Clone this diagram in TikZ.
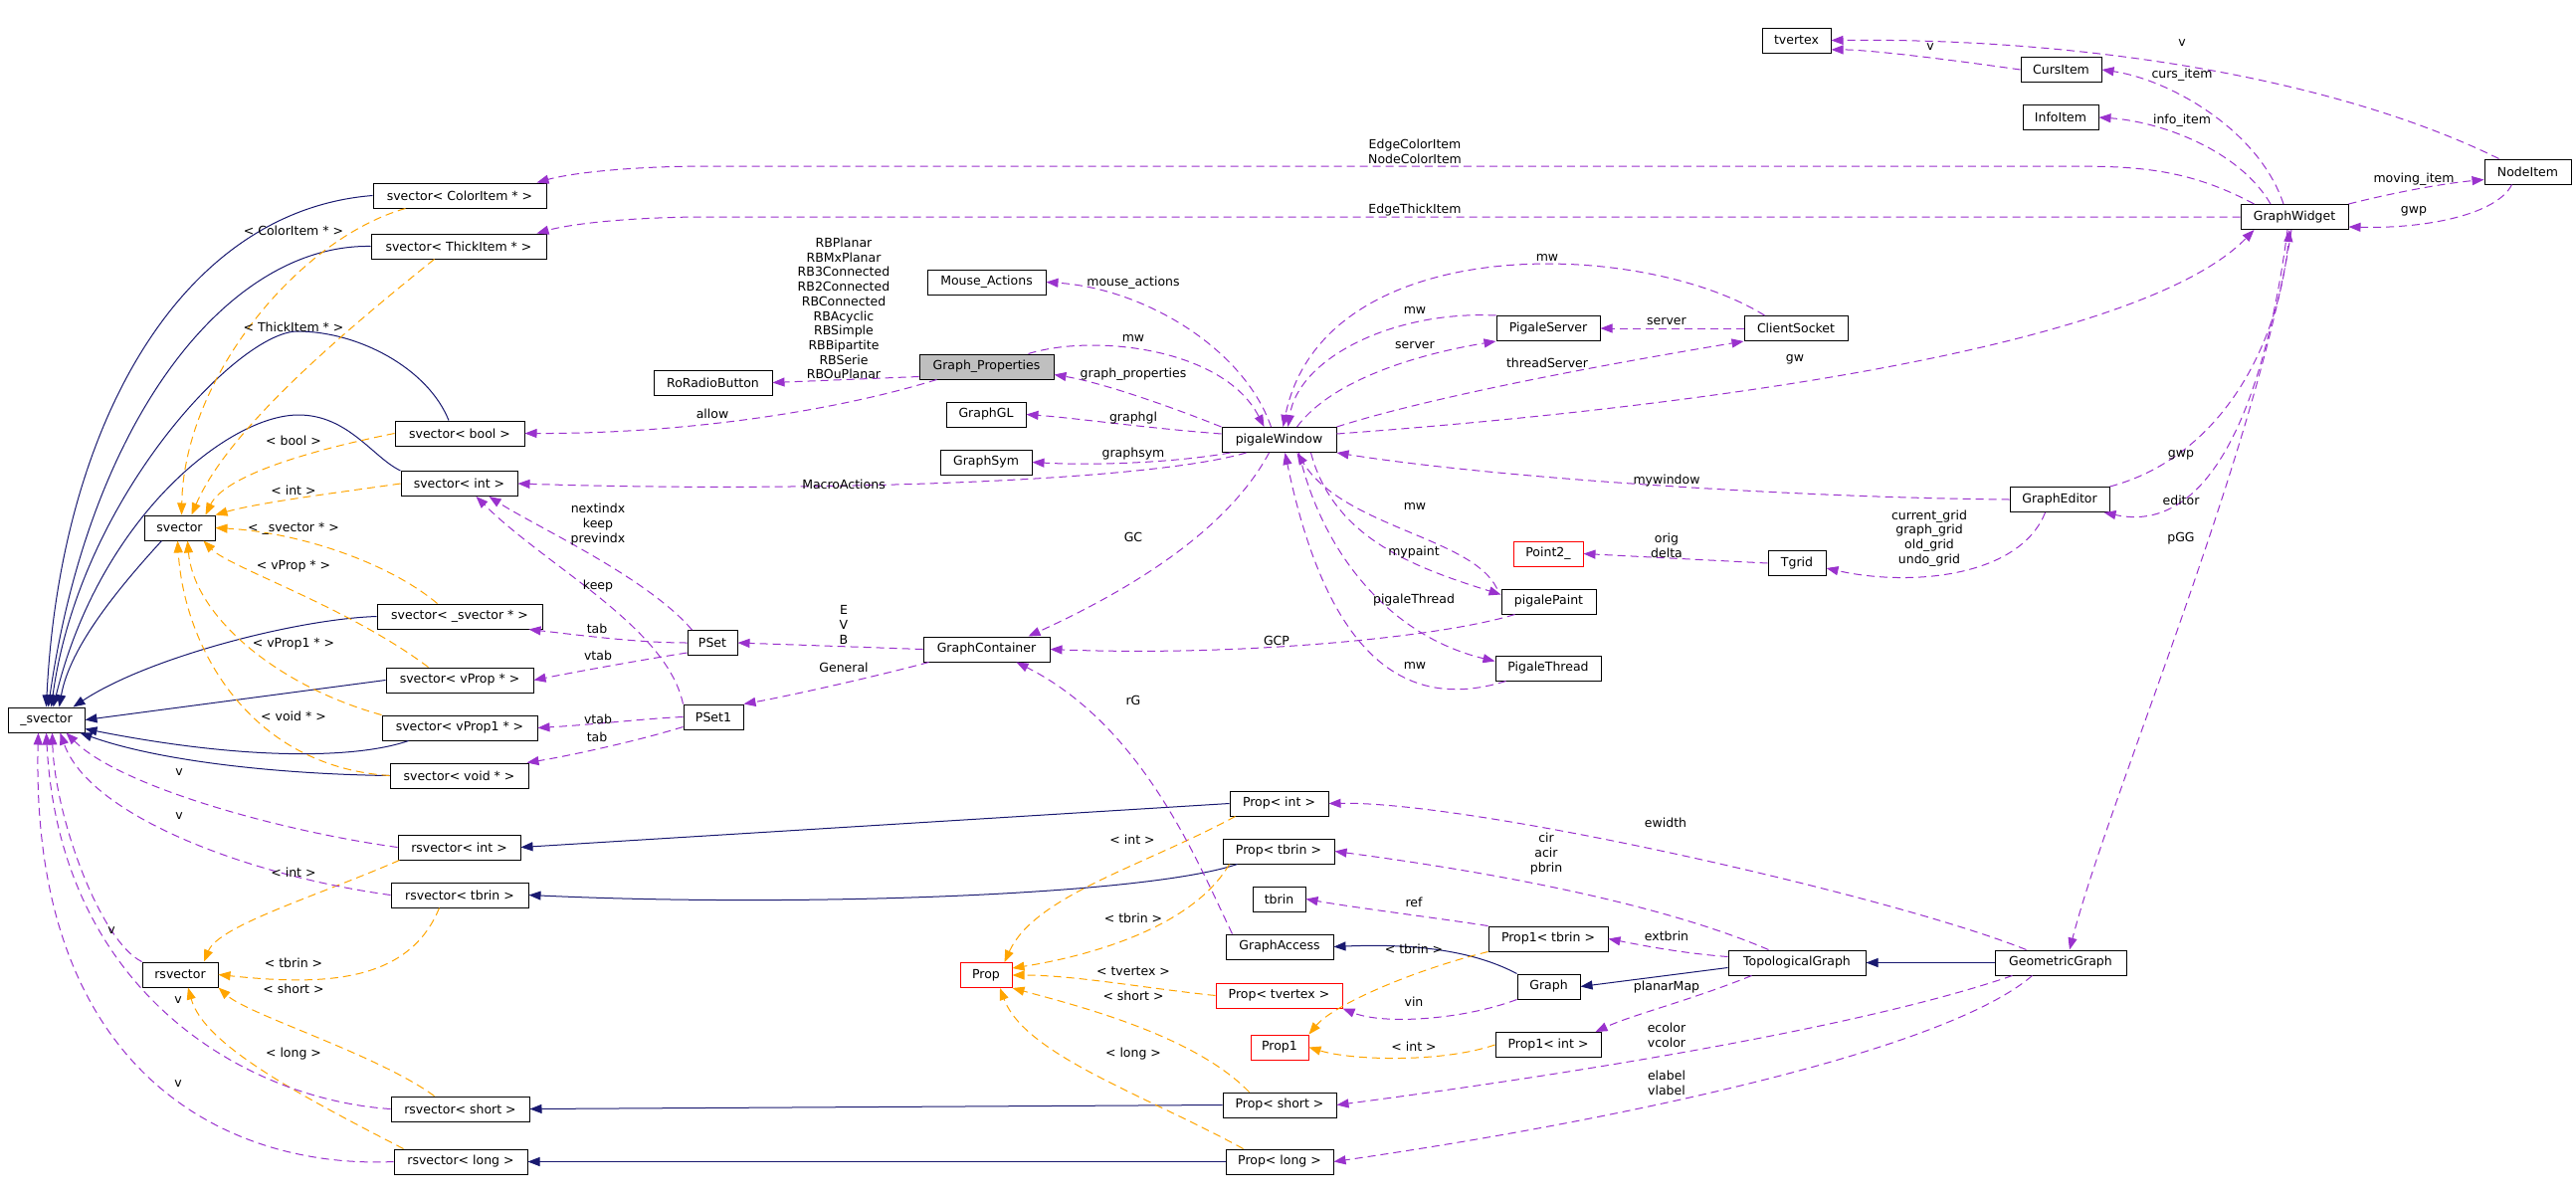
\documentclass[tikz,border=0pt]{standalone}
\usepackage{fontspec}
\usepackage{tikz}
\usetikzlibrary{arrows.meta}
\newfontfamily\dgfont{DejaVu Sans}
\newcommand{\dgsize}{\dgfont\fontsize{12.5pt}{14.7pt}\selectfont}
\definecolor{inhcol}{HTML}{191970}
\definecolor{usecol}{HTML}{9A32CD}
\definecolor{tplcol}{HTML}{FFA500}
\definecolor{undoc}{HTML}{FF0000}
\definecolor{selfill}{HTML}{BFBFBF}
\tikzset{
  cls/.style    = {rectangle, draw=black, line width=1pt, fill=white,
                   minimum height=25pt, inner sep=0pt, font=\dgsize},
  sel/.style    = {cls, fill=selfill},
  ext/.style    = {cls, draw=undoc},
  lbl/.style    = {inner sep=0pt, align=center, font=\dgsize},
  inh/.style    = {-{Triangle[length=12pt,width=9pt]}, line width=1pt, draw=inhcol},
  tpl/.style    = {-{Triangle[length=12pt,width=9pt]}, line width=1pt, draw=tplcol,
                   dash pattern=on 8pt off 5pt},
  member/.style = {-{Triangle[length=12pt,width=9pt]}, line width=1pt, draw=usecol,
                   dash pattern=on 8pt off 5pt},
}

\begin{document}
\begin{tikzpicture}[x=1pt, y=-1pt]
  \fill[white] (0,0) rectangle (2589,1205);
  \useasboundingbox (0,0) rectangle (2589,1205);

  % LEFT: vector classes
  \node[cls, minimum width=174pt] (svCI) at (462,196.5) {svector< ColorItem * >};
  \node[cls, minimum width=176pt] (svTI) at (461,247.5) {svector< ThickItem * >};
  \node[cls, minimum width=130pt] (svB) at (462,435.5) {svector< bool >};
  \node[cls, minimum width=117pt] (svI) at (461.5,486) {svector< int >};
  \node[cls, minimum width=71pt] (sv) at (180.5,530.5) {svector};
  \node[cls, minimum width=166pt] (svS) at (462,619.5) {svector< \_svector * >};
  \node[cls, minimum width=148pt] (svVP) at (462,683.5) {svector< vProp * >};
  \node[cls, minimum width=156pt] (svVP1) at (462,731.5) {svector< vProp1 * >};
  \node[cls, minimum width=139pt] (svV) at (461.5,779.5) {svector< void * >};
  \node[cls, minimum width=77pt] (usv) at (46.5,723.5) {\_svector};
  \node[cls, minimum width=123pt] (rsI) at (461.5,851.5) {rsvector< int >};
  \node[cls, minimum width=138pt] (rsT) at (462,899.5) {rsvector< tbrin >};
  \node[cls, minimum width=76pt] (rsv) at (181,979.5) {rsvector};
  \node[cls, minimum width=139pt] (rsS) at (462.5,1114.5) {rsvector< short >};
  \node[cls, minimum width=134pt] (rsL) at (463,1167.5) {rsvector< long >};

  % MIDDLE: window and containers
  \node[cls, minimum width=119pt] (RoRadioButton) at (716.5,384.5) {RoRadioButton};
  \node[cls, minimum width=50pt] (PSet) at (716,646) {PSet};
  \node[cls, minimum width=60pt] (PSet1) at (717,720.5) {PSet1};
  \node[cls, minimum width=119pt] (MA) at (991.5,283.5) {Mouse\_Actions};
  \node[sel, minimum width=135pt] (GraphProps) at (991.5,368.5) {Graph\_Properties};
  \node[cls, minimum width=80pt] (GraphGL) at (991,416.5) {GraphGL};
  \node[cls, minimum width=92pt] (GraphSym) at (991,464.5) {GraphSym};
  \node[cls, minimum width=127pt] (GraphContainer) at (991.5,652.5) {GraphContainer};
  \node[ext, minimum width=52pt] (Prop) at (991,980) {Prop};
  \node[cls, minimum width=115pt] (pW) at (1285.5,442) {pigaleWindow};
  \node[cls, minimum width=99pt] (PropI) at (1285.5,807.5) {Prop< int >};
  \node[cls, minimum width=112pt] (PropT) at (1285,855.5) {Prop< tbrin >};
  \node[cls, minimum width=53pt] (tbrin) at (1285.5,903.5) {tbrin};
  \node[cls, minimum width=108pt] (GraphAccess) at (1286,951.5) {GraphAccess};
  \node[ext, minimum width=127pt] (PropTV) at (1285.5,1000.5) {Prop< tvertex >};
  \node[ext, minimum width=58pt] (Prop1) at (1286,1052.5) {Prop1};
  \node[cls, minimum width=114pt] (PropS) at (1286,1110.5) {Prop< short >};
  \node[cls, minimum width=108pt] (PropL) at (1286,1167.5) {Prop< long >};

  % RIGHT: server, editor, graph classes
  \node[cls, minimum width=104pt] (PigaleServer) at (1556,330) {PigaleServer};
  \node[ext, minimum width=70pt] (Point2) at (1556,556.5) {Point2\_};
  \node[cls, minimum width=95pt] (pigalePaint) at (1556.5,604.5) {pigalePaint};
  \node[cls, minimum width=106pt] (PigaleThread) at (1556,671.5) {PigaleThread};
  \node[cls, minimum width=120pt] (Prop1T) at (1556,943.5) {Prop1< tbrin >};
  \node[cls, minimum width=63pt] (Graph) at (1556.5,991.5) {Graph};
  \node[cls, minimum width=106pt] (Prop1I) at (1556,1050) {Prop1< int >};
  \node[cls, minimum width=104pt] (ClientSocket) at (1805,330) {ClientSocket};
  \node[cls, minimum width=58pt] (Tgrid) at (1806,566) {Tgrid};
  \node[cls, minimum width=138pt] (TG) at (1806,967.5) {TopologicalGraph};
  \node[cls, minimum width=69pt] (tvertex) at (1805.5,40.5) {tvertex};
  \node[cls, minimum width=81pt] (CursItem) at (2071.5,70) {CursItem};
  \node[cls, minimum width=76pt] (InfoItem) at (2071,118) {InfoItem};
  \node[cls, minimum width=100pt] (GraphEditor) at (2070,502) {GraphEditor};
  \node[cls, minimum width=132pt] (GG) at (2071,967.5) {GeometricGraph};
  \node[cls, minimum width=108pt] (GW) at (2306,218) {GraphWidget};
  \node[cls, minimum width=87pt] (NodeItem) at (2540.5,172.5) {NodeItem};

  % inheritance
  \draw[inh] (svCI.west) .. controls (180,212) and (60,430) .. (usv.north);
  \draw[inh] (svTI.west) .. controls (230,245) and (90,420) .. ([xshift=2pt]usv.north);
  \draw[inh] ([xshift=-11pt]svB.north) .. controls (430,370) and (360,333) .. (299,333)
             .. controls (240,333) and (80,500) .. ([xshift=5pt]usv.north);
  \draw[inh] (svI.north west) .. controls (375,460) and (350,417) .. (300,417)
             .. controls (230,417) and (100,520) .. ([xshift=7pt]usv.north);
  \draw[inh] ([xshift=18pt]sv.south west) .. controls (120,590) and (70,650) .. ([xshift=13pt]usv.north);
  \draw[inh] (svS.west) .. controls (300,622) and (150,660) .. ([xshift=27pt]usv.north);
  \draw[inh] (svVP.west) -- (usv.east);
  \draw[inh] ([xshift=27pt]svVP1.south west) .. controls (360,762) and (250,765) .. ([yshift=4pt]usv.south east);
  \draw[inh] (svV.west) .. controls (280,778) and (160,765) .. ([xshift=-5pt]usv.south east);
  \draw[inh] (PropI.west) -- (rsI.east);
  \draw[inh] ([xshift=15pt]PropT.south west) .. controls (1150,900) and (800,912) .. (rsT.east);
  \draw[inh] (PropS.west) -- (rsS.east);
  \draw[inh] (PropL.west) -- (rsL.east);
  \draw[inh] (Graph.north west) .. controls (1480,955) and (1420,948) .. (GraphAccess.east);
  \draw[inh] ([yshift=-5pt]TG.west) -- (Graph.east);
  \draw[inh] (GG.west) -- (TG.east);

  % template instances
  \draw[tpl] ([xshift=33pt]svCI.south west) .. controls (300,240) and (185,380) .. ([xshift=2pt]sv.north);
  \draw[tpl] ([xshift=64pt]svTI.south west) .. controls (350,330) and (230,430) .. ([xshift=12pt]sv.north);
  \draw[tpl] (svB.west) .. controls (300,455) and (225,480) .. ([xshift=-10pt]sv.north east);
  \draw[tpl] (svI.west) .. controls (340,495) and (260,505) .. (sv.north east);
  \draw[tpl] ([xshift=61pt]svS.north west) .. controls (390,565) and (300,535) .. (sv.east);
  \draw[tpl] ([xshift=43pt]svVP.north west) .. controls (350,610) and (230,570) .. ([xshift=-12pt]sv.south east);
  \draw[tpl] (svVP1.north west) .. controls (280,690) and (195,620) .. ([xshift=8pt]sv.south);
  \draw[tpl] (svV.west) .. controls (250,770) and (185,650) .. ([xshift=-2pt]sv.south);
  \draw[tpl] ([xshift=2pt]rsI.south west) .. controls (320,900) and (220,930) .. ([xshift=24pt]rsv.north);
  \draw[tpl] ([xshift=49pt]rsT.south west) .. controls (410,990) and (320,990) .. (rsv.east);
  \draw[tpl] ([xshift=44pt]rsS.north west) .. controls (380,1060) and (250,1020) .. (rsv.south east);
  \draw[tpl] ([xshift=10pt]rsL.north west) .. controls (300,1100) and (205,1050) .. ([xshift=8pt]rsv.south);
  \draw[tpl] ([xshift=6pt]PropI.south west) .. controls (1150,870) and (1040,900) .. ([xshift=-8pt]Prop.north east);
  \draw[tpl] ([xshift=7pt]PropT.south west) .. controls (1200,930) and (1100,960) .. ([yshift=7pt]Prop.east);
  \draw[tpl] (PropTV.west) .. controls (1150,993) and (1080,980) .. (Prop.east);
  \draw[tpl] ([xshift=27pt]PropS.north west) .. controls (1200,1040) and (1080,1010) .. (Prop.south east);
  \draw[tpl] ([xshift=18pt]PropL.north west) .. controls (1150,1100) and (1030,1060) .. ([xshift=14pt]Prop.south);
  \draw[tpl] (Prop1T.south west) .. controls (1420,975) and (1340,1010) .. (Prop1.north east);
  \draw[tpl] (Prop1I.west) .. controls (1450,1068) and (1360,1066) .. (Prop1.east);

  % members: vectors
  \draw[member] (rsI.west) .. controls (280,835) and (120,790) .. ([xshift=20pt]usv.south);
  \draw[member] (rsT.west) .. controls (250,880) and (90,820) .. ([xshift=14pt]usv.south);
  \draw[member] (rsv.north west) .. controls (100,945) and (55,820) .. ([xshift=6pt]usv.south);
  \draw[member] (rsS.west) .. controls (250,1105) and (60,1000) .. (usv.south);
  \draw[member] (rsL.west) .. controls (230,1175) and (30,1080) .. ([xshift=-8pt]usv.south);
  \draw[member] ([xshift=5pt]PSet.north west) .. controls (650,580) and (540,530) .. ([xshift=30pt]svI.south);
  \draw[member] (PSet1.north west) .. controls (670,630) and (550,570) .. ([xshift=17pt]svI.south);
  \draw[member] (PSet.west) .. controls (640,646) and (580,638) .. ([xshift=-14pt]svS.south east);
  \draw[member] ([yshift=-10pt]PSet.west) .. controls (640,664) and (580,675) .. (svVP.east);
  \draw[member] (PSet1.west) .. controls (650,722) and (600,728) .. (svVP1.east);
  \draw[member] ([yshift=-10pt]PSet1.west) .. controls (640,745) and (570,760) .. ([xshift=-2pt]svV.north east);
  \draw[member] (GraphContainer.west) -- (PSet.east);
  \draw[member] ([xshift=6pt]GraphContainer.south west) .. controls (880,680) and (790,700) .. (PSet1.north east);

  % members: window
  \draw[member] ([yshift=-10pt]GraphProps.west) -- (RoRadioButton.east);
  \draw[member] ([xshift=18pt]GraphProps.south west) .. controls (850,410) and (700,436) .. (svB.east);
  \draw[member] ([xshift=25pt]pW.south west) .. controls (1150,485) and (800,495) .. (svI.east);
  \draw[member] ([xshift=50pt]pW.north west) .. controls (1250,350) and (1150,290) .. (MA.east);
  \draw[member] ([xshift=42pt]GraphProps.north) .. controls (1100,335) and (1230,350) .. ([xshift=43pt]pW.north west);
  \draw[member] (pW.north west) .. controls (1180,410) and (1110,385) .. ([yshift=-8pt]GraphProps.east);
  \draw[member] ([yshift=6pt]pW.west) .. controls (1150,430) and (1080,420) .. (GraphGL.east);
  \draw[member] ([xshift=9pt]pW.south west) .. controls (1180,465) and (1100,468) .. (GraphSym.east);
  \draw[member] ([xshift=48pt]pW.south west) .. controls (1230,540) and (1120,600) .. ([xshift=42pt]GraphContainer.north);
  \draw[member] ([xshift=14pt]pigalePaint.south west) .. controls (1450,640) and (1250,660) .. (GraphContainer.east);
  \draw[member] ([xshift=7pt]GraphAccess.north west) .. controls (1205,870) and (1150,730) .. ([xshift=30pt]GraphContainer.south);
  \draw[member] (PigaleServer.north west) .. controls (1400,312) and (1305,360) .. ([xshift=67pt]pW.north west);
  \draw[member] ([xshift=21pt]ClientSocket.north west) .. controls (1650,240) and (1330,230) .. ([xshift=62pt]pW.north west);
  \draw[member] ([xshift=76pt]pW.north west) .. controls (1340,380) and (1430,355) .. (PigaleServer.south west);
  \draw[member] (ClientSocket.west) -- (PigaleServer.east);
  \draw[member] (pW.north east) .. controls (1450,395) and (1650,360) .. (ClientSocket.south west);
  \draw[member] ([yshift=6pt]pW.east) .. controls (1700,410) and (2150,350) .. ([xshift=14pt]GW.south west);
  \draw[member] (GraphEditor.west) .. controls (1800,500) and (1500,480) .. (pW.south east);
  \draw[member] ([xshift=-4pt]pigalePaint.north west) .. controls (1480,540) and (1350,530) .. ([xshift=76pt]pW.south west);
  \draw[member] ([xshift=90pt]pW.south west) .. controls (1340,540) and (1420,570) .. ([yshift=7pt]pigalePaint.west);
  \draw[member] ([xshift=78pt]pW.south west) .. controls (1330,560) and (1400,640) .. ([yshift=7pt]PigaleThread.west);
  \draw[member] ([xshift=11pt]PigaleThread.south west) .. controls (1400,720) and (1330,640) .. ([xshift=64pt]pW.south west);
  \draw[member] (Tgrid.west) -- (Point2.east);
  \draw[member] ([xshift=36pt]GraphEditor.south west) .. controls (2030,580) and (1920,590) .. ([yshift=-5pt]Tgrid.east);

  % members: widget
  \draw[member] ([xshift=14pt]GW.north west) .. controls (2200,170) and (2150,167) .. (2080,167)
                -- (700,167) .. controls (620,168) and (570,175) .. ([xshift=-10pt]svCI.north east);
  \draw[member] (GW.west) -- (700,218) .. controls (620,219) and (570,226) .. ([xshift=-10pt]svTI.north east);
  \draw[member] (GraphEditor.north east) .. controls (2230,460) and (2290,350) .. ([xshift=-5pt]GW.south);
  \draw[member] ([xshift=-7pt]GW.south) .. controls (2280,380) and (2230,540) .. ([xshift=-6pt]GraphEditor.south east);
  \draw[member] ([xshift=-3pt]GW.south) .. controls (2270,450) and (2120,800) .. ([xshift=9pt]GG.north);
  \draw[member] ([xshift=-11pt]GW.north) .. controls (2270,130) and (2180,80) .. (CursItem.east);
  \draw[member] ([xshift=-24pt]GW.north) .. controls (2250,150) and (2170,122) .. (InfoItem.east);
  \draw[member] (CursItem.west) .. controls (1960,60) and (1880,50) .. (tvertex.-15);
  \draw[member] ([xshift=15pt]NodeItem.north west) .. controls (2350,80) and (2100,38) .. (tvertex.east);
  \draw[member] (GW.north east) .. controls (2400,195) and (2450,185) .. ([yshift=-8pt]NodeItem.west);
  \draw[member] ([xshift=28pt]NodeItem.south west) .. controls (2510,215) and (2440,230) .. ([yshift=-10pt]GW.east);

  % members: graph properties
  \draw[member] ([xshift=32pt]GG.north west) .. controls (1900,900) and (1480,805) .. (PropI.east);
  \draw[member] ([xshift=41pt]TG.north west) .. controls (1650,900) and (1450,870) .. (PropT.east);
  \draw[member] (Prop1T.north west) .. controls (1440,922) and (1360,912) .. (tbrin.east);
  \draw[member] ([yshift=6pt]TG.west) .. controls (1690,958) and (1650,950) .. (Prop1T.east);
  \draw[member] (Graph.south west) .. controls (1470,1025) and (1390,1030) .. (PropTV.south east);
  \draw[member] ([xshift=24pt]TG.south west) .. controls (1700,1005) and (1640,1020) .. ([xshift=-6pt]Prop1I.north east);
  \draw[member] ([xshift=18pt]GG.south west) .. controls (1850,1040) and (1500,1090) .. (PropS.east);
  \draw[member] ([xshift=38pt]GG.south west) .. controls (1950,1060) and (1600,1130) .. (PropL.east);

  % template labels
  \node[lbl] (tColor) at (295,232) {< ColorItem * >};
  \node[lbl] (tThick) at (295,329) {< ThickItem * >};
  \node[lbl] (tBool) at (295,443) {< bool >};
  \node[lbl] (tInt) at (295,493) {< int >};
  \node[lbl] (tSvec) at (295,531) {< \_svector * >};
  \node[lbl] (tVProp) at (295,569) {< vProp * >};
  \node[lbl] (tVProp1) at (295,647) {< vProp1 * >};
  \node[lbl] (tVoid) at (295,720) {< void * >};
  \node[lbl] (tRsInt) at (295,877) {< int >};
  \node[lbl] (tRsTbrin) at (295,968) {< tbrin >};
  \node[lbl] (tRsShort) at (295,994) {< short >};
  \node[lbl] (tRsLong) at (295,1059) {< long >};
  \node[lbl] (tPInt) at (1138,844) {< int >};
  \node[lbl] (tPTbrin) at (1139,923) {< tbrin >};
  \node[lbl] (tPTvertex) at (1139,976) {< tvertex >};
  \node[lbl] (tPShort) at (1139,1001) {< short >};
  \node[lbl] (tPLong) at (1139,1059) {< long >};
  \node[lbl] (tP1Tbrin) at (1421,954) {< tbrin >};
  \node[lbl] (tP1Int) at (1421,1052) {< int >};

  % member labels
  \node[lbl] (mV1) at (180,776) {v};
  \node[lbl] (mV2) at (180,820) {v};
  \node[lbl] (mV3) at (112,935) {v};
  \node[lbl] (mV4) at (179,1005) {v};
  \node[lbl] (mV5) at (179,1089) {v};
  \node[lbl] (mNext) at (601,527) {nextindx\\keep\\previndx};
  \node[lbl] (mKeep) at (601,589) {keep};
  \node[lbl] (mTab) at (600,632) {tab};
  \node[lbl] (mVtab) at (601,659) {vtab};
  \node[lbl] (mVtab1) at (601,723) {vtab};
  \node[lbl] (mTab1) at (600,741) {tab};
  \node[lbl] (mRB) at (848,310) {RBPlanar\\RBMxPlanar\\RB3Connected\\RB2Connected\\RBConnected\\RBAcyclic\\RBSimple\\RBBipartite\\RBSerie\\RBOuPlanar};
  \node[lbl] (mAllow) at (716,416) {allow};
  \node[lbl] (mMacro) at (848,487) {MacroActions};
  \node[lbl] (mEVB) at (848,628) {E\\V\\B};
  \node[lbl] (mGeneral) at (848,671) {General};
  \node[lbl] (mMouse) at (1139,284) {mouse\_actions};
  \node[lbl] (mMwGP) at (1139,340) {mw};
  \node[lbl] (mGraphProps) at (1139,376) {graph\_properties};
  \node[lbl] (mGraphgl) at (1139,420) {graphgl};
  \node[lbl] (mGraphsym) at (1139,456) {graphsym};
  \node[lbl] (mGC) at (1139,540) {GC};
  \node[lbl] (mGCP) at (1283,644) {GCP};
  \node[lbl] (mRG) at (1139,704) {rG};
  \node[lbl] (mEwidth) at (1674,827) {ewidth};
  \node[lbl] (mCir) at (1554,858) {cir\\acir\\pbrin};
  \node[lbl] (mRef) at (1421,907) {ref};
  \node[lbl] (mExtbrin) at (1675,941) {extbrin};
  \node[lbl] (mPlanar) at (1675,992) {planarMap};
  \node[lbl] (mVin) at (1421,1007) {vin};
  \node[lbl] (mEcolor) at (1675,1040) {ecolor\\vcolor};
  \node[lbl] (mElabel) at (1675,1088) {elabel\\vlabel};
  \node[lbl] (mMwCS) at (1555,259) {mw};
  \node[lbl] (mMwPS) at (1422,312) {mw};
  \node[lbl] (mServerCS) at (1675,323) {server};
  \node[lbl] (mServerPW) at (1422,347) {server};
  \node[lbl] (mThread) at (1555,365) {threadServer};
  \node[lbl] (mGw) at (1804,361) {gw};
  \node[lbl] (mMywindow) at (1675,483) {mywindow};
  \node[lbl] (mMwPaint) at (1422,509) {mw};
  \node[lbl] (mMypaint) at (1421,555) {mypaint};
  \node[lbl] (mPThread) at (1421,603) {pigaleThread};
  \node[lbl] (mMwThread) at (1422,669) {mw};
  \node[lbl] (mOrig) at (1675,548) {orig\\delta};
  \node[lbl] (mGrid) at (1939,541) {current\_grid\\graph\_grid\\old\_grid\\undo\_grid};
  \node[lbl] (mGwpGE) at (2192,457) {gwp};
  \node[lbl] (mEditor) at (2192,503) {editor};
  \node[lbl] (mPGG) at (2192,541) {pGG};
  \node[lbl] (mEdgeColor) at (1422,152) {EdgeColorItem\\NodeColorItem};
  \node[lbl] (mEdgeThick) at (1422,211) {EdgeThickItem};
  \node[lbl] (mVCurs) at (1940,47) {v};
  \node[lbl] (mVNode) at (2193,43) {v};
  \node[lbl] (mCurs) at (2193,75) {curs\_item};
  \node[lbl] (mInfo) at (2193,121) {info\_item};
  \node[lbl] (mMoving) at (2426,180) {moving\_item};
  \node[lbl] (mGwpNI) at (2426,212) {gwp};

\end{tikzpicture}
\end{document}
